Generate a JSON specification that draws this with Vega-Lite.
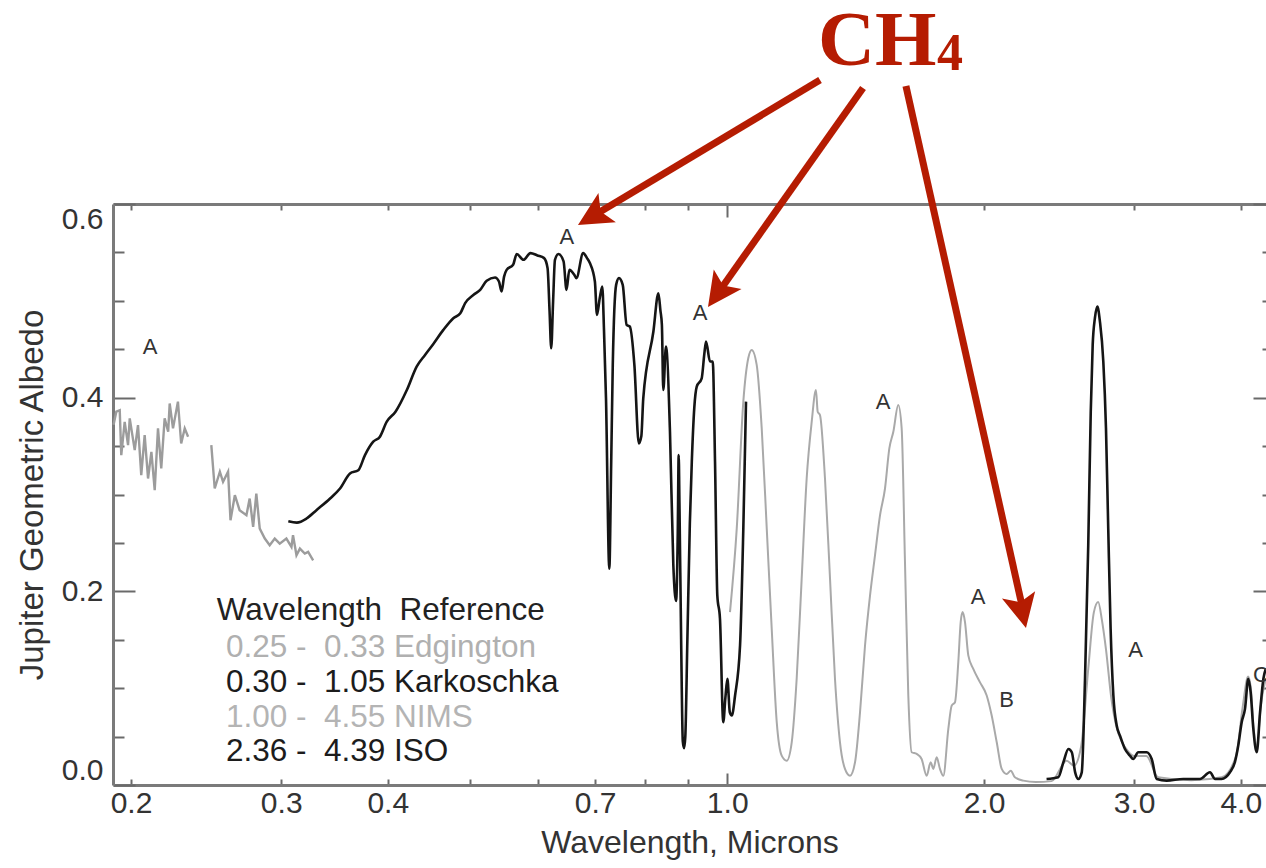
{
  "$schema": "https://vega.github.io/schema/vega-lite/v6.json",
  "width": 1153,
  "height": 581,
  "autosize": {"type": "none"},
  "padding": {"left": 113, "top": 204, "right": 0, "bottom": 83},
  "background": "white",
  "config": {
    "view": {"stroke": null},
    "text": {"font": "Liberation Sans"},
    "axis": {"labelFont": "Liberation Sans", "titleFont": "Liberation Sans", "titleFontWeight": "normal"}
  },
  "datasets": {
    "edgington": [
      {"part": 1, "w": 0.1908, "a": 0.372}, {"part": 1, "w": 0.1922, "a": 0.3855}, {"part": 1, "w": 0.1940, "a": 0.387},
      {"part": 1, "w": 0.1948, "a": 0.3407}, {"part": 1, "w": 0.1966, "a": 0.375}, {"part": 1, "w": 0.1984, "a": 0.351},
      {"part": 1, "w": 0.1993, "a": 0.3786}, {"part": 1, "w": 0.2020, "a": 0.3458}, {"part": 1, "w": 0.2038, "a": 0.3717},
      {"part": 1, "w": 0.2056, "a": 0.320}, {"part": 1, "w": 0.2075, "a": 0.3613}, {"part": 1, "w": 0.2094, "a": 0.3165},
      {"part": 1, "w": 0.2113, "a": 0.3441}, {"part": 1, "w": 0.2132, "a": 0.3044}, {"part": 1, "w": 0.2151, "a": 0.3683},
      {"part": 1, "w": 0.2170, "a": 0.3269}, {"part": 1, "w": 0.2190, "a": 0.3786}, {"part": 1, "w": 0.2211, "a": 0.3648},
      {"part": 1, "w": 0.2220, "a": 0.394}, {"part": 1, "w": 0.2240, "a": 0.3683}, {"part": 1, "w": 0.2270, "a": 0.3959},
      {"part": 1, "w": 0.2290, "a": 0.3527}, {"part": 1, "w": 0.2312, "a": 0.3683}, {"part": 1, "w": 0.2333, "a": 0.3597},
      {"part": 2, "w": 0.2484, "a": 0.351}, {"part": 2, "w": 0.2507, "a": 0.3062}, {"part": 2, "w": 0.2542, "a": 0.3235},
      {"part": 2, "w": 0.2564, "a": 0.3131}, {"part": 2, "w": 0.2599, "a": 0.3235}, {"part": 2, "w": 0.2616, "a": 0.2734},
      {"part": 2, "w": 0.2647, "a": 0.2993}, {"part": 2, "w": 0.2681, "a": 0.2838}, {"part": 2, "w": 0.2731, "a": 0.2786},
      {"part": 2, "w": 0.2755, "a": 0.2958}, {"part": 2, "w": 0.2781, "a": 0.2666}, {"part": 2, "w": 0.2805, "a": 0.301},
      {"part": 2, "w": 0.2831, "a": 0.2648}, {"part": 2, "w": 0.2870, "a": 0.2545}, {"part": 2, "w": 0.2908, "a": 0.2476},
      {"part": 2, "w": 0.2948, "a": 0.2545}, {"part": 2, "w": 0.2988, "a": 0.2493}, {"part": 2, "w": 0.3042, "a": 0.2545},
      {"part": 2, "w": 0.3084, "a": 0.2459}, {"part": 2, "w": 0.3097, "a": 0.2579}, {"part": 2, "w": 0.3126, "a": 0.2372},
      {"part": 2, "w": 0.3155, "a": 0.2441}, {"part": 2, "w": 0.3197, "a": 0.2390}, {"part": 2, "w": 0.3226, "a": 0.2407},
      {"part": 2, "w": 0.3270, "a": 0.232}
    ],
    "karkoschka": [
      {"w": 0.3058, "a": 0.2724}, {"w": 0.3129, "a": 0.2710}, {"w": 0.3212, "a": 0.2752}, {"w": 0.3299, "a": 0.2838},
      {"w": 0.3423, "a": 0.2959}, {"w": 0.3516, "a": 0.3062}, {"w": 0.3612, "a": 0.3217}, {"w": 0.3694, "a": 0.3251},
      {"w": 0.3761, "a": 0.3407}, {"w": 0.3846, "a": 0.3545}, {"w": 0.3916, "a": 0.3597}, {"w": 0.3989, "a": 0.3752},
      {"w": 0.4084, "a": 0.3855}, {"w": 0.4211, "a": 0.4079}, {"w": 0.4324, "a": 0.4321}, {"w": 0.4423, "a": 0.4441},
      {"w": 0.4521, "a": 0.4552}, {"w": 0.4647, "a": 0.4700}, {"w": 0.4774, "a": 0.4821}, {"w": 0.4865, "a": 0.4872},
      {"w": 0.4929, "a": 0.4976}, {"w": 0.5043, "a": 0.5062}, {"w": 0.5133, "a": 0.5113}, {"w": 0.5224, "a": 0.5207},
      {"w": 0.5343, "a": 0.5241}, {"w": 0.5400, "a": 0.5200}, {"w": 0.5438, "a": 0.5097}, {"w": 0.5475, "a": 0.5250},
      {"w": 0.5513, "a": 0.5320}, {"w": 0.5610, "a": 0.5372}, {"w": 0.5665, "a": 0.5483}, {"w": 0.5769, "a": 0.5424},
      {"w": 0.5879, "a": 0.5493}, {"w": 0.5990, "a": 0.5469}, {"w": 0.6100, "a": 0.5441}, {"w": 0.6157, "a": 0.5338},
      {"w": 0.6190, "a": 0.49}, {"w": 0.6218, "a": 0.451}, {"w": 0.6250, "a": 0.50}, {"w": 0.6281, "a": 0.5424},
      {"w": 0.6341, "a": 0.5483}, {"w": 0.6429, "a": 0.5407}, {"w": 0.6480, "a": 0.5113}, {"w": 0.6530, "a": 0.5320},
      {"w": 0.6618, "a": 0.5269}, {"w": 0.6655, "a": 0.5234}, {"w": 0.6778, "a": 0.5493}, {"w": 0.6849, "a": 0.5441},
      {"w": 0.6902, "a": 0.5390}, {"w": 0.6996, "a": 0.5200}, {"w": 0.7035, "a": 0.4855}, {"w": 0.7088, "a": 0.5027},
      {"w": 0.7137, "a": 0.5148}, {"w": 0.7170, "a": 0.47}, {"w": 0.7209, "a": 0.3993}, {"w": 0.7274, "a": 0.2234},
      {"w": 0.7310, "a": 0.33}, {"w": 0.7342, "a": 0.4338}, {"w": 0.7409, "a": 0.5165}, {"w": 0.7466, "a": 0.5234},
      {"w": 0.7542, "a": 0.5165}, {"w": 0.7622, "a": 0.4752}, {"w": 0.7687, "a": 0.4735}, {"w": 0.7783, "a": 0.4338},
      {"w": 0.7877, "a": 0.3527}, {"w": 0.7930, "a": 0.36}, {"w": 0.7972, "a": 0.3993}, {"w": 0.8193, "a": 0.4683},
      {"w": 0.8304, "a": 0.5079}, {"w": 0.8350, "a": 0.49}, {"w": 0.8383, "a": 0.4752}, {"w": 0.8415, "a": 0.4079},
      {"w": 0.8476, "a": 0.4528}, {"w": 0.8568, "a": 0.3648}, {"w": 0.8646, "a": 0.2269}, {"w": 0.8710, "a": 0.19},
      {"w": 0.8750, "a": 0.26}, {"w": 0.8772, "a": 0.3407}, {"w": 0.8790, "a": 0.29}, {"w": 0.8830, "a": 0.15},
      {"w": 0.8870, "a": 0.045}, {"w": 0.8900, "a": 0.038}, {"w": 0.8930, "a": 0.05}, {"w": 0.8980, "a": 0.15},
      {"w": 0.9040, "a": 0.27}, {"w": 0.9088, "a": 0.3338}, {"w": 0.9150, "a": 0.39}, {"w": 0.9210, "a": 0.4114},
      {"w": 0.9334, "a": 0.42}, {"w": 0.9400, "a": 0.445}, {"w": 0.9444, "a": 0.458}, {"w": 0.9546, "a": 0.4373},
      {"w": 0.9616, "a": 0.4373}, {"w": 0.9676, "a": 0.3338}, {"w": 0.9736, "a": 0.1958}, {"w": 0.9806, "a": 0.1717},
      {"w": 0.9894, "a": 0.0649}, {"w": 0.9950, "a": 0.09}, {"w": 1.0005, "a": 0.1097}, {"w": 1.0070, "a": 0.075},
      {"w": 1.0124, "a": 0.0717}, {"w": 1.0214, "a": 0.0924}, {"w": 1.0352, "a": 0.1441}, {"w": 1.0444, "a": 0.2648},
      {"w": 1.0520, "a": 0.3959}
    ],
    "nims": [
      {"w": 1.0075, "a": 0.1786}, {"w": 1.026, "a": 0.2648}, {"w": 1.0444, "a": 0.3959}, {"w": 1.0584, "a": 0.4407},
      {"w": 1.0684, "a": 0.4493}, {"w": 1.0828, "a": 0.4338}, {"w": 1.0976, "a": 0.3683}, {"w": 1.1126, "a": 0.2648},
      {"w": 1.1276, "a": 0.1614}, {"w": 1.143, "a": 0.0649}, {"w": 1.1584, "a": 0.0303}, {"w": 1.1742, "a": 0.0251},
      {"w": 1.1902, "a": 0.0441}, {"w": 1.2062, "a": 0.1097}, {"w": 1.2226, "a": 0.2131}, {"w": 1.2392, "a": 0.3165},
      {"w": 1.2562, "a": 0.3752}, {"w": 1.2706, "a": 0.4079}, {"w": 1.2766, "a": 0.3855}, {"w": 1.2846, "a": 0.382},
      {"w": 1.302, "a": 0.3165}, {"w": 1.3198, "a": 0.2131}, {"w": 1.3376, "a": 0.1097}, {"w": 1.3558, "a": 0.0441},
      {"w": 1.3742, "a": 0.0166}, {"w": 1.393, "a": 0.0096}, {"w": 1.412, "a": 0.0235}, {"w": 1.4312, "a": 0.0752},
      {"w": 1.4506, "a": 0.1441}, {"w": 1.4704, "a": 0.1958}, {"w": 1.4902, "a": 0.2372}, {"w": 1.5106, "a": 0.2786},
      {"w": 1.531, "a": 0.3062}, {"w": 1.549, "a": 0.3476}, {"w": 1.5658, "a": 0.3648}, {"w": 1.5868, "a": 0.3924},
      {"w": 1.6014, "a": 0.3683}, {"w": 1.6158, "a": 0.2304}, {"w": 1.6304, "a": 0.0924}, {"w": 1.6452, "a": 0.0338},
      {"w": 1.6676, "a": 0.0321}, {"w": 1.690, "a": 0.0269}, {"w": 1.7132, "a": 0.0096}, {"w": 1.7318, "a": 0.0235},
      {"w": 1.7442, "a": 0.0166}, {"w": 1.7602, "a": 0.0286}, {"w": 1.7758, "a": 0.0166}, {"w": 1.792, "a": 0.0096},
      {"w": 1.8164, "a": 0.0579}, {"w": 1.833, "a": 0.082}, {"w": 1.8494, "a": 0.0855}, {"w": 1.866, "a": 0.1269},
      {"w": 1.878, "a": 0.1683}, {"w": 1.888, "a": 0.1786}, {"w": 1.900, "a": 0.1683}, {"w": 1.917, "a": 0.1338},
      {"w": 1.943, "a": 0.120}, {"w": 1.978, "a": 0.1062}, {"w": 2.0146, "a": 0.0924}, {"w": 2.042, "a": 0.0717},
      {"w": 2.070, "a": 0.0441}, {"w": 2.098, "a": 0.0166}, {"w": 2.126, "a": 0.0114}, {"w": 2.150, "a": 0.0148},
      {"w": 2.174, "a": 0.008}, {"w": 2.224, "a": 0.0045}, {"w": 2.30, "a": 0.003}, {"w": 2.40, "a": 0.004},
      {"w": 2.50, "a": 0.025}, {"w": 2.55, "a": 0.02}, {"w": 2.60, "a": 0.04}, {"w": 2.65, "a": 0.12},
      {"w": 2.69, "a": 0.178}, {"w": 2.722, "a": 0.189}, {"w": 2.75, "a": 0.17}, {"w": 2.78, "a": 0.14},
      {"w": 2.82, "a": 0.09}, {"w": 2.86, "a": 0.06}, {"w": 2.90, "a": 0.045}, {"w": 2.95, "a": 0.035},
      {"w": 3.00, "a": 0.03}, {"w": 3.10, "a": 0.03}, {"w": 3.20, "a": 0.008}, {"w": 3.50, "a": 0.005},
      {"w": 3.80, "a": 0.008}, {"w": 3.95, "a": 0.03}, {"w": 4.02, "a": 0.08}, {"w": 4.08, "a": 0.112},
      {"w": 4.11, "a": 0.10}, {"w": 4.14, "a": 0.06}, {"w": 4.18, "a": 0.04}, {"w": 4.22, "a": 0.08},
      {"w": 4.28, "a": 0.11}
    ],
    "iso": [
      {"w": 2.368, "a": 0.0062}, {"w": 2.444, "a": 0.008}, {"w": 2.478, "a": 0.0235}, {"w": 2.512, "a": 0.0372},
      {"w": 2.535, "a": 0.0338}, {"w": 2.558, "a": 0.0131}, {"w": 2.580, "a": 0.0062}, {"w": 2.604, "a": 0.0131},
      {"w": 2.627, "a": 0.1097}, {"w": 2.650, "a": 0.2476}, {"w": 2.668, "a": 0.3855}, {"w": 2.682, "a": 0.4545},
      {"w": 2.698, "a": 0.4821}, {"w": 2.716, "a": 0.4941}, {"w": 2.735, "a": 0.4786}, {"w": 2.760, "a": 0.4373},
      {"w": 2.780, "a": 0.3683}, {"w": 2.797, "a": 0.2648}, {"w": 2.815, "a": 0.1614}, {"w": 2.836, "a": 0.0924},
      {"w": 2.862, "a": 0.0613}, {"w": 2.887, "a": 0.0510}, {"w": 2.926, "a": 0.0372}, {"w": 2.966, "a": 0.0303},
      {"w": 2.992, "a": 0.0269}, {"w": 3.033, "a": 0.0338}, {"w": 3.102, "a": 0.0338}, {"w": 3.145, "a": 0.0269},
      {"w": 3.188, "a": 0.0062}, {"w": 3.275, "a": 0.0045}, {"w": 3.425, "a": 0.0062}, {"w": 3.583, "a": 0.0062},
      {"w": 3.681, "a": 0.0131}, {"w": 3.732, "a": 0.0062}, {"w": 3.798, "a": 0.0062}, {"w": 3.885, "a": 0.0131},
      {"w": 3.937, "a": 0.0235}, {"w": 3.973, "a": 0.0407}, {"w": 4.010, "a": 0.0649}, {"w": 4.046, "a": 0.0786},
      {"w": 4.082, "a": 0.1097}, {"w": 4.108, "a": 0.0959}, {"w": 4.138, "a": 0.0579}, {"w": 4.176, "a": 0.0338},
      {"w": 4.214, "a": 0.0752}, {"w": 4.252, "a": 0.1097}, {"w": 4.28, "a": 0.12}
    ],
    "marks": [
      {"t": "A", "w": 0.2105, "a": 0.4523}, {"t": "A", "w": 0.6484, "a": 0.566}, {"t": "A", "w": 0.9296, "a": 0.4871},
      {"t": "A", "w": 1.523, "a": 0.3959}, {"t": "A", "w": 1.969, "a": 0.1945}, {"t": "B", "w": 2.126, "a": 0.0878},
      {"t": "A", "w": 3.012, "a": 0.1394}, {"t": "C", "w": 4.225, "a": 0.1136}
    ],
    "legend": [
      {"t": "Wavelength\u00a0\u00a0Reference", "src": "head", "w": 0.2521, "a": 0.1793},
      {"t": "0.25\u00a0-\u00a0\u00a00.33\u00a0Edgington", "src": "Edgington", "w": 0.2584, "a": 0.1415},
      {"t": "0.30\u00a0-\u00a0\u00a01.05\u00a0Karkoschka", "src": "Karkoschka", "w": 0.2584, "a": 0.1053},
      {"t": "1.00\u00a0-\u00a0\u00a04.55\u00a0NIMS", "src": "NIMS", "w": 0.2584, "a": 0.0692},
      {"t": "2.36\u00a0-\u00a0\u00a04.39\u00a0ISO", "src": "ISO", "w": 0.2584, "a": 0.0344}
    ],
    "arrows": [
      {"w": 1.2846, "a": 0.728, "w2": 0.7001, "a2": 0.589, "tw": 0.6684, "ta": 0.5783, "angle": 239.1},
      {"w": 1.4428, "a": 0.7198, "w2": 0.9797, "a2": 0.5105, "tw": 0.9494, "ta": 0.4936, "angle": 215.3},
      {"w": 1.620, "a": 0.7219, "w2": 2.220, "a2": 0.1823, "tw": 2.240, "ta": 0.1621, "angle": 167.4}
    ],
    "title": [
      {"t": "CH", "w": 1.2778, "a": 0.7436, "kind": "main"},
      {"t": "4", "w": 1.762, "a": 0.7384, "kind": "sub"}
    ]
  },
  "layer": [
    {
      "data": {"name": "edgington"},
      "mark": {"type": "line", "color": "#9c9c9c", "strokeWidth": 2.4},
      "encoding": {
        "x": {"field": "w", "type": "quantitative",
          "scale": {"type": "log", "domain": [0.1905, 4.282], "nice": false},
          "axis": {
            "orient": "bottom", "title": "Wavelength, Microns",
            "values": [0.2, 0.3, 0.4, 0.5, 0.6, 0.7, 0.8, 0.9, 1, 2, 3, 4],
            "labelExpr": "indexof([0.2, 0.3, 0.4, 0.7, 1, 2, 3, 4], datum.value) >= 0 ? format(datum.value, '.1f') : ''",
            "grid": false, "domainColor": "#7a7a7a", "domainWidth": 3,
            "tickColor": "#6a6a6a", "tickWidth": 2,
            "tickSize": {"condition": {"test": "datum.value === 1", "value": -12}, "value": -6},
            "labelPadding": {"condition": {"test": "datum.value === 1", "value": 15}, "value": 9},
            "labelFontSize": 30, "labelColor": "#333333", "labelOverlap": false, "labelFlush": false,
            "titleFontSize": 32, "titleColor": "#333333", "titlePadding": 9
          }},
        "y": {"field": "a", "type": "quantitative",
          "scale": {"domain": [0, 0.6], "nice": false, "zero": false},
          "axis": {
            "orient": "left", "title": "Jupiter Geometric Albedo",
            "values": [0, 0.05, 0.1, 0.15, 0.2, 0.25, 0.3, 0.35, 0.4, 0.45, 0.5, 0.55, 0.6],
            "labelExpr": "abs(datum.value * 5 - round(datum.value * 5)) < 0.001 ? format(datum.value, '.1f') : ''",
            "grid": false, "domainColor": "#7a7a7a", "domainWidth": 3,
            "tickColor": "#6a6a6a", "tickWidth": 2,
            "tickSize": {"condition": {"test": "abs(datum.value * 5 - round(datum.value * 5)) < 0.001", "value": -22}, "value": -11},
            "labelPadding": 32,
            "labelFlush": true, "labelOverlap": false,
            "labelFontSize": 30, "labelColor": "#333333",
            "titleFontSize": 33, "titleColor": "#333333", "titlePadding": 12
          }},
        "detail": {"field": "part", "type": "nominal"}
      }
    },
    {
      "data": {"name": "nims"},
      "mark": {"type": "line", "color": "#a9a9a9", "strokeWidth": 2, "interpolate": "monotone"},
      "encoding": {
        "x": {"field": "w", "type": "quantitative",
          "scale": {"type": "log", "domain": [0.1905, 4.282], "nice": false},
          "axis": {
            "orient": "top", "title": null, "labels": false,
            "values": [0.2, 0.3, 0.4, 0.5, 0.6, 0.7, 0.8, 0.9, 1, 2, 3, 4],
            "grid": false, "domainColor": "#7a7a7a", "domainWidth": 3,
            "tickColor": "#6a6a6a", "tickWidth": 2,
            "tickSize": {"condition": {"test": "datum.value === 1", "value": -13}, "value": -6}
          }},
        "y": {"field": "a", "type": "quantitative",
          "scale": {"domain": [0, 0.6], "nice": false, "zero": false},
          "axis": {
            "orient": "right", "title": null, "labels": false, "domain": false,
            "values": [0, 0.05, 0.1, 0.15, 0.2, 0.25, 0.3, 0.35, 0.4, 0.45, 0.5, 0.55, 0.6],
            "grid": false, "tickColor": "#6a6a6a", "tickWidth": 2,
            "tickSize": {"condition": {"test": "abs(datum.value * 5 - round(datum.value * 5)) < 0.001", "value": -13}, "value": -4}
          }}
      }
    },
    {
      "data": {"name": "karkoschka"},
      "mark": {"type": "line", "color": "#151515", "strokeWidth": 2.6, "interpolate": "monotone"},
      "encoding": {
        "x": {"field": "w", "type": "quantitative", "scale": {"type": "log", "domain": [0.1905, 4.282], "nice": false}, "axis": null},
        "y": {"field": "a", "type": "quantitative", "scale": {"domain": [0, 0.6], "nice": false, "zero": false}, "axis": null}
      }
    },
    {
      "data": {"name": "iso"},
      "mark": {"type": "line", "color": "#151515", "strokeWidth": 2.6, "interpolate": "monotone"},
      "encoding": {
        "x": {"field": "w", "type": "quantitative", "scale": {"type": "log", "domain": [0.1905, 4.282], "nice": false}, "axis": null},
        "y": {"field": "a", "type": "quantitative", "scale": {"domain": [0, 0.6], "nice": false, "zero": false}, "axis": null}
      }
    },
    {
      "data": {"name": "marks"},
      "mark": {"type": "text", "font": "Liberation Sans", "fontSize": 22, "color": "#333333", "align": "center", "baseline": "middle"},
      "encoding": {
        "x": {"field": "w", "type": "quantitative", "scale": {"type": "log", "domain": [0.1905, 4.282], "nice": false}, "axis": null},
        "y": {"field": "a", "type": "quantitative", "scale": {"domain": [0, 0.6], "nice": false, "zero": false}, "axis": null},
        "text": {"field": "t"}
      }
    },
    {
      "data": {"name": "legend"},
      "mark": {"type": "text", "font": "Liberation Sans", "fontSize": 31.5, "align": "left", "baseline": "middle"},
      "encoding": {
        "x": {"field": "w", "type": "quantitative", "scale": {"type": "log", "domain": [0.1905, 4.282], "nice": false}, "axis": null},
        "y": {"field": "a", "type": "quantitative", "scale": {"domain": [0, 0.6], "nice": false, "zero": false}, "axis": null},
        "text": {"field": "t"},
        "color": {"field": "src", "type": "nominal",
          "scale": {"domain": ["head", "Edgington", "Karkoschka", "NIMS", "ISO"], "range": ["#222222", "#b0b0b0", "#1c1c1c", "#b4b4b4", "#1c1c1c"]},
          "legend": null}
      }
    },
    {
      "data": {"name": "arrows"},
      "mark": {"type": "rule", "color": "#b51c02", "strokeWidth": 7, "strokeCap": "butt"},
      "encoding": {
        "x": {"field": "w", "type": "quantitative", "scale": {"type": "log", "domain": [0.1905, 4.282], "nice": false}, "axis": null},
        "y": {"field": "a", "type": "quantitative", "scale": {"domain": [0, 0.6], "nice": false, "zero": false}, "axis": null},
        "x2": {"field": "w2"},
        "y2": {"field": "a2"}
      }
    },
    {
      "data": {"name": "arrows"},
      "mark": {"type": "point", "shape": "M0,0L1,2L0,1.55L-1,2Z", "size": 1156, "filled": true, "color": "#b51c02", "opacity": 1, "strokeWidth": 0},
      "encoding": {
        "x": {"field": "tw", "type": "quantitative", "scale": {"type": "log", "domain": [0.1905, 4.282], "nice": false}, "axis": null},
        "y": {"field": "ta", "type": "quantitative", "scale": {"domain": [0, 0.6], "nice": false, "zero": false}, "axis": null},
        "angle": {"field": "angle", "type": "quantitative", "scale": null}
      }
    },
    {
      "data": {"name": "title"},
      "mark": {"type": "text", "font": "Liberation Serif", "fontWeight": "bold", "color": "#b51c02", "align": "left", "baseline": "alphabetic"},
      "encoding": {
        "x": {"field": "w", "type": "quantitative", "scale": {"type": "log", "domain": [0.1905, 4.282], "nice": false}, "axis": null},
        "y": {"field": "a", "type": "quantitative", "scale": {"domain": [0, 0.6], "nice": false, "zero": false}, "axis": null},
        "text": {"field": "t"},
        "size": {"field": "kind", "type": "nominal", "scale": {"domain": ["main", "sub"], "range": [79, 52]}, "legend": null}
      }
    }
  ]
}
